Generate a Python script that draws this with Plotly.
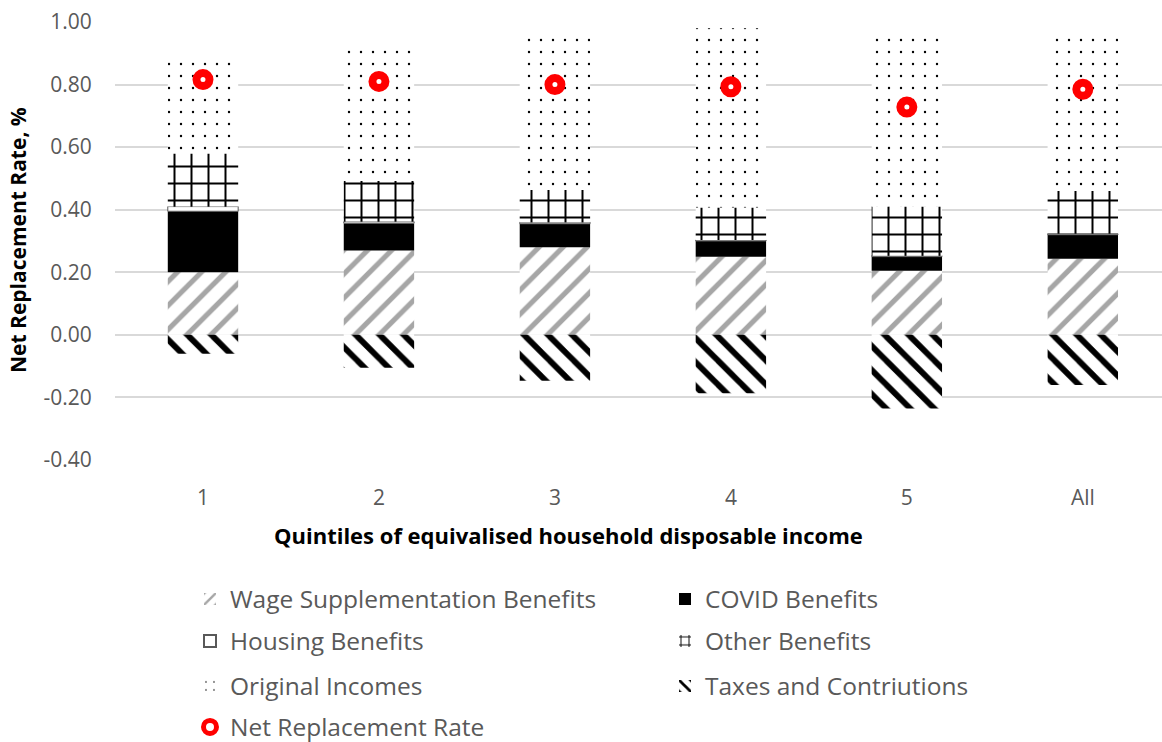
import plotly.graph_objects as go

categories = ["1", "2", "3", "4", "5", "All"]
wage = [0.200, 0.270, 0.280, 0.250, 0.205, 0.243]
covid = [0.195, 0.087, 0.075, 0.050, 0.045, 0.077]
housing = [0.015, 0.005, 0.005, 0.003, 0.003, 0.003]
other = [0.170, 0.130, 0.103, 0.104, 0.157, 0.137]
original = [0.295, 0.430, 0.487, 0.573, 0.543, 0.491]
taxes = [-0.060, -0.105, -0.147, -0.187, -0.235, -0.160]
nrr = [0.816, 0.810, 0.800, 0.793, 0.728, 0.785]

y_ticks = [-0.4, -0.2, 0.0, 0.2, 0.4, 0.6, 0.8, 1.0]
y_tick_labels = ["-0.40", "-0.20", "0.00", "0.20", "0.40", "0.60", "0.80", "1.00"]

FONT = "Open Sans"
GRAY_TXT = "#595959"
LFONT = dict(family=FONT, size=24.5, color=GRAY_TXT)

fig = go.Figure()

def pat_bar(name, vals, shape, fg, size, solidity, legend, line=None):
    marker = dict(color="white",
                  pattern=dict(shape=shape, fgcolor=fg, bgcolor="white",
                               size=size, solidity=solidity, fillmode="replace"),
                  line=line or dict(width=0))
    fig.add_trace(go.Bar(name=name, x=categories, y=vals, marker=marker,
                         legend=legend))

pat_bar("Wage Supplementation Benefits", wage, "/", "#A6A6A6", 17, 0.3, "legend")
fig.add_trace(go.Bar(name="COVID Benefits", x=categories, y=covid,
                     marker=dict(color="black", line=dict(width=0)), legend="legend2"))
fig.add_trace(go.Bar(name="Housing Benefits", x=categories, y=housing,
                     marker=dict(color="white", line=dict(width=1, color="#595959")),
                     legend="legend3"))
pat_bar("Other Benefits", other, "+", "black", 17, 0.22, "legend4")
pat_bar("Original Incomes", original, ".", "black", 12, 0.03, "legend5")
pat_bar("Taxes and Contriutions", taxes, "\\", "black", 17, 0.35, "legend6")

fig.add_trace(go.Scatter(name="Net Replacement Rate", x=categories, y=nrr,
                         mode="markers",
                         marker=dict(symbol="circle", size=13, color="white",
                                     line=dict(color="#FF0000", width=8)),
                         legend="legend7"))

PL, PR, PT, PB = 115, 1162, 22, 460
W, H = 1162, 742
pw, ph = PR - PL, PB - PT

def px(x):
    return (x - PL) / pw

def py(y):
    return (PB - y) / ph

col1 = px(190)
col2 = px(665)
rows = [py(599), py(641), py(686), py(727)]
leg_pos = [(col1, rows[0]), (col2, rows[0]), (col1, rows[1]), (col2, rows[1]),
           (col1, rows[2]), (col2, rows[2]), (col1, rows[3])]

layout_legends = {}
for i, (lx, ly) in enumerate(leg_pos):
    key = "legend" if i == 0 else f"legend{i+1}"
    layout_legends[key] = dict(x=lx, y=ly, xanchor="left", yanchor="middle",
                               font=LFONT, bgcolor="rgba(0,0,0,0)",
                               borderwidth=0,
                               itemsizing="trace" if i == 6 else "constant")

fig.update_layout(
    template="none",
    width=W, height=H,
    margin=dict(l=PL, r=W - PR, t=PT, b=H - PB, pad=0, autoexpand=False),
    barmode="relative",
    bargap=0.6,
    paper_bgcolor="white",
    plot_bgcolor="white",
    showlegend=True,
    **layout_legends,
    xaxis=dict(range=[-0.5, 5.45], type="category", showgrid=False,
               showline=False, zeroline=False, automargin=False,
               ticks="outside", ticklen=19, tickcolor="rgba(0,0,0,0)",
               tickfont=dict(family=FONT, size=21, color=GRAY_TXT)),
    yaxis=dict(range=[-0.4, 1.0], tickvals=y_ticks, ticktext=y_tick_labels,
               showgrid=True, gridcolor="#D9D9D9", gridwidth=1.5,
               zeroline=True, zerolinecolor="#D9D9D9", zerolinewidth=1.5,
               showline=False, automargin=False,
               ticks="outside", ticklen=18, tickcolor="rgba(0,0,0,0)",
               tickfont=dict(family=FONT, size=21, color=GRAY_TXT)),
    annotations=[
        dict(text="<b>Quintiles of equivalised household disposable income</b>",
             xref="paper", yref="paper", x=px(568), y=py(535),
             xanchor="center", yanchor="middle", showarrow=False,
             font=dict(family=FONT, size=22, color="black")),
        dict(text="<b>Net Replacement Rate, %</b>", textangle=-90,
             xref="paper", yref="paper", x=px(18), y=py(240),
             xanchor="center", yanchor="middle", showarrow=False,
             font=dict(family=FONT, size=21, color="black")),
    ],
)

fig.write_html("out.html",
               config={"displayModeBar": False},
               post_script="document.body.style.margin='0px';document.body.style.overflow='hidden';")
